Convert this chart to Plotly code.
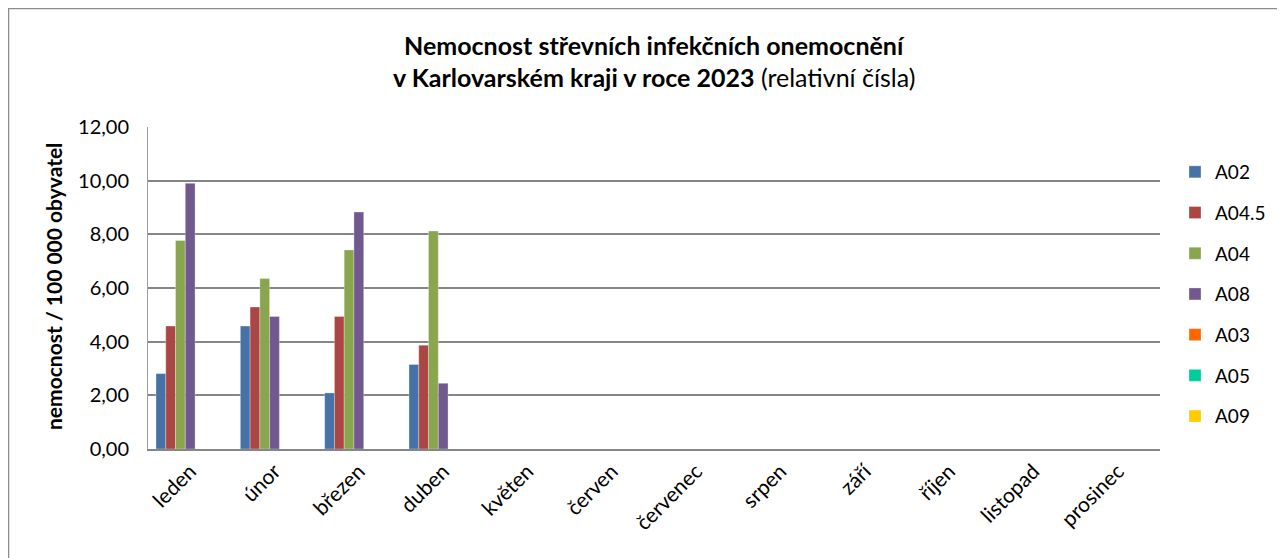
import plotly.graph_objects as go

months = ["leden", "únor", "březen", "duben", "květen", "červen", "červenec",
          "srpen", "září", "říjen", "listopad", "prosinec"]
series_names = ["A02", "A04.5", "A04", "A08", "A03", "A05", "A09"]
a02 = [2.81, 4.58, 2.09, 3.15, None, None, None, None, None, None, None, None]
a04_5 = [4.58, 5.29, 4.94, 3.87, None, None, None, None, None, None, None, None]
a04 = [7.77, 6.35, 7.42, 8.12, None, None, None, None, None, None, None, None]
a08 = [9.90, 4.94, 8.83, 2.45, None, None, None, None, None, None, None, None]
a03 = [0, 0, 0, 0, None, None, None, None, None, None, None, None]
a05 = [0, 0, 0, 0, None, None, None, None, None, None, None, None]
a09 = [0, 0, 0, 0, None, None, None, None, None, None, None, None]
series_values = [a02, a04_5, a04, a08, a03, a05, a09]
colors = ["#4572A7", "#AA4643", "#89A54E", "#71588F", "#FF6600", "#00CC99", "#FFCC00"]
y_ticks = [0, 2, 4, 6, 8, 10, 12]

FONT = "Lato"
# the page body adds an 8px offset, so figure coordinates are page coordinates - 8
W, H = 1277, 550
L, R, T, B = 140, 1152, 119, 441

fig = go.Figure()
for i, (name, vals) in enumerate(zip(series_names, series_values)):
    fig.add_trace(go.Bar(
        x=months, y=vals, name=name, legendgroup=name,
        marker=dict(color=colors[i], line=dict(color="rgba(255,255,255,0.6)", width=0.5)),
    ))

def px_x(p):
    return (p - L) / (R - L)

def px_y(p):
    return (B - p) / (B - T)

fig.update_layout(
    width=W, height=H,
    margin=dict(l=L, r=W - R, t=T, b=H - B, autoexpand=False),
    paper_bgcolor="white", plot_bgcolor="white",
    font=dict(family=FONT, size=19, color="#000000"),
    separators=", ",
    barmode="group", bargap=0.19, bargroupgap=0,
    showlegend=True,
    legend=dict(x=px_x(1167), y=px_y(145), xanchor="left", yanchor="top",
                font=dict(family=FONT, size=19, color="#000000"),
                tracegroupgap=13, bgcolor="rgba(0,0,0,0)"),
    xaxis=dict(tickangle=-45, showgrid=False, showline=True, linecolor="#868686",
               linewidth=1.5, ticks="", tickfont=dict(size=21)),
    yaxis=dict(range=[0, 12], tickvals=y_ticks, tickformat=".2f", showgrid=True,
               gridcolor="#868686", gridwidth=1.5, showline=True, linecolor="#A0A0A0",
               linewidth=1, ticks="", ticklabelstandoff=14, tickfont=dict(size=20),
               zeroline=False),
    shapes=[dict(type="rect", xref="paper", yref="paper",
                 x0=px_x(0.5), x1=px_x(1300), y0=px_y(570), y1=px_y(0.5),
                 line=dict(color="#8C8C8C", width=1.5), fillcolor="rgba(0,0,0,0)",
                 layer="below")],
    annotations=[
        dict(text="<b>Nemocnost střevních infekčních onemocnění</b>", xref="paper", yref="paper",
             x=0.5, y=px_y(37), xanchor="center", yanchor="middle", showarrow=False,
             font=dict(family=FONT, size=25, color="#000000")),
        dict(text="<b>v Karlovarském kraji v roce 2023</b> (relativní čísla)", xref="paper", yref="paper",
             x=0.5, y=px_y(69), xanchor="center", yanchor="middle", showarrow=False,
             font=dict(family=FONT, size=25, color="#000000")),
        dict(text="<b>nemocnost / 100 000 obyvatel</b>", xref="paper", yref="paper",
             x=px_x(45), y=px_y(279), xanchor="center", yanchor="middle", textangle=-90,
             showarrow=False, font=dict(family=FONT, size=21, color="#000000")),
    ],
)

fig.write_html("out.html")
